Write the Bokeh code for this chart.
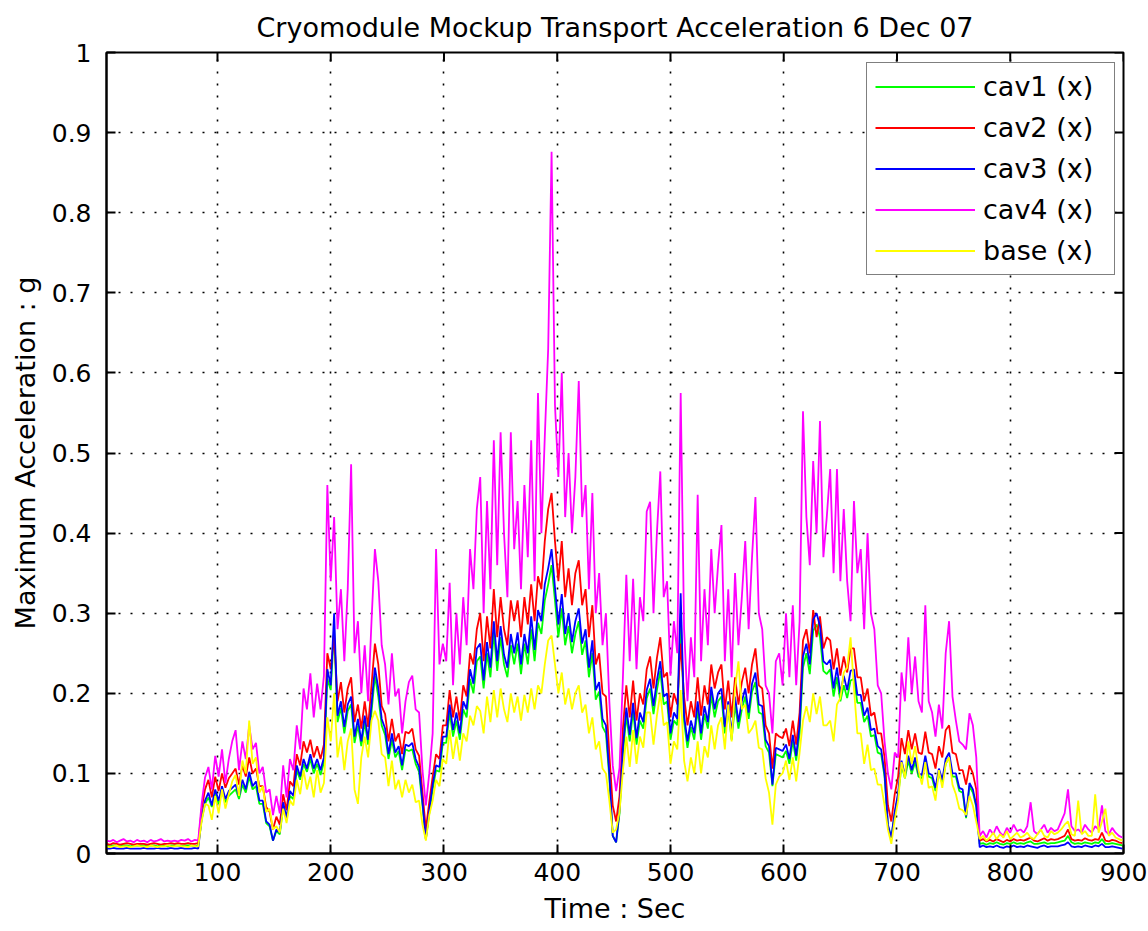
import math

from bokeh.plotting import figure
from bokeh.models import (Range1d, FixedTicker, CustomJSTickFormatter,
                          Legend, LegendItem)
from bokeh.embed import file_html
from bokeh.resources import INLINE

# Sample times (s) and peak acceleration per sample, in milli-g
t_sec = list(range(2, 900, 3))

cav4_mg = [
    16, 15, 17, 14, 16, 18, 15, 16, 14, 17,
    15, 16, 14, 17, 15, 16, 18, 15, 16, 15,
    16, 15, 17, 16, 18, 15, 17, 16, 62, 95,
    108, 80, 122, 96, 130, 88, 118, 140, 154, 104,
    140, 118, 160, 130, 138, 100, 108, 76, 80, 48,
    72, 50, 110, 70, 118, 104, 160, 130, 206, 180,
    225, 170, 212, 180, 222, 460, 340, 420, 280, 330,
    240, 330, 486, 250, 290, 200, 260, 190, 290, 380,
    340, 260, 236, 186, 250, 196, 206, 150, 190, 214,
    222, 180, 176, 104, 60, 100, 150, 380, 236, 262,
    240, 338, 210, 300, 236, 320, 260, 380, 330, 430,
    470, 300, 440, 330, 516, 360, 526, 400, 320, 526,
    380, 440, 330, 460, 370, 516, 340, 575, 400, 520,
    630, 876, 560, 470, 600, 420, 500, 400, 470, 590,
    420, 460, 330, 450, 300, 350, 260, 300, 190, 110,
    78, 107, 220, 348, 240, 343, 230, 320, 290, 427,
    439, 300, 400, 477, 320, 340, 222, 290, 250, 575,
    280, 190, 270, 220, 448, 240, 330, 260, 380, 300,
    360, 410, 240, 330, 220, 350, 260, 320, 390, 280,
    370, 445, 300, 280, 210, 200, 150, 240, 250, 210,
    300, 220, 310, 210, 290, 552, 420, 360, 490, 400,
    540, 370, 420, 480, 350, 480, 340, 430, 340, 290,
    440, 350, 380, 280, 400, 300, 280, 210, 200, 140,
    100, 80, 126, 120, 226, 190, 270, 200, 246, 190,
    176, 310, 190, 176, 146, 186, 156, 250, 290, 196,
    166, 140, 136, 130, 175, 160, 120, 22, 28, 20,
    30, 24, 34, 26, 22, 32, 26, 36, 28, 30,
    26, 34, 64, 28, 24, 30, 36, 26, 32, 28,
    30, 40, 50, 80, 34, 28, 30, 26, 36, 30,
    26, 34, 30, 60, 28, 24, 32, 26, 22, 20,
]

cav2_mg = [
    12, 11, 13, 12, 11, 12, 13, 12, 11, 12,
    12, 12, 11, 12, 13, 12, 11, 12, 12, 13,
    12, 13, 12, 12, 13, 12, 12, 13, 55, 80,
    92, 70, 96, 78, 100, 82, 94, 100, 106, 86,
    110, 96, 120, 100, 106, 84, 84, 58, 52, 30,
    46, 36, 74, 54, 90, 84, 124, 110, 140, 126,
    142, 120, 134, 118, 136, 250, 230, 272, 190, 214,
    176, 206, 220, 164, 186, 156, 190, 158, 210, 262,
    236, 184, 174, 140, 168, 140, 150, 124, 152, 150,
    156, 130, 122, 76, 30, 64, 96, 124, 118, 160,
    160, 204, 170, 196, 166, 210, 196, 250, 236, 280,
    300, 240, 296, 256, 330, 270, 320, 280, 260, 316,
    290, 316, 270, 320, 286, 336, 290, 346, 330, 390,
    430, 450, 390, 340, 390, 320, 356, 310, 350, 366,
    310, 330, 270, 310, 236, 250, 200, 196, 124, 60,
    40, 72, 156, 210, 170, 216, 166, 200, 186, 230,
    246, 206, 244, 270, 220, 226, 170, 200, 186, 262,
    196, 160, 190, 170, 220, 172, 210, 186, 236, 206,
    226, 236, 180, 216, 170, 220, 186, 214, 232, 200,
    236, 256, 210, 206, 160, 150, 106, 150, 146, 144,
    156, 134, 166, 136, 176, 266, 280, 250, 304, 270,
    296, 256, 270, 266, 230, 256, 222, 246, 226, 256,
    256, 220, 220, 190, 206, 172, 176, 150, 150, 120,
    60, 40, 74, 96, 144, 124, 154, 130, 150, 126,
    124, 152, 126, 124, 106, 134, 120, 154, 160, 126,
    124, 104, 104, 86, 110, 100, 80, 16, 18, 15,
    17, 15, 18, 16, 14, 17, 15, 18, 16, 17,
    16, 18, 20, 16, 15, 17, 19, 16, 18, 17,
    18, 20, 22, 30, 18, 16, 17, 16, 19, 17,
    16, 18, 17, 26, 16, 15, 17, 16, 14, 13,
]

cav1_mg = [
    10, 9, 10, 10, 9, 10, 10, 9, 10, 10,
    10, 10, 9, 10, 10, 9, 10, 10, 9, 10,
    10, 10, 9, 10, 10, 10, 9, 10, 42, 62,
    70, 58, 74, 62, 78, 64, 72, 76, 80, 68,
    86, 76, 96, 80, 84, 62, 62, 38, 34, 16,
    28, 24, 58, 42, 72, 68, 104, 92, 112, 102,
    118, 100, 112, 98, 114, 218, 204, 280, 164, 182,
    150, 178, 186, 138, 160, 134, 164, 136, 176, 222,
    196, 160, 148, 118, 142, 120, 128, 104, 130, 128,
    130, 112, 102, 60, 18, 50, 80, 104, 102, 138,
    138, 176, 146, 166, 142, 180, 170, 218, 200, 240,
    246, 206, 250, 220, 276, 228, 270, 236, 220, 260,
    236, 262, 224, 262, 236, 280, 240, 288, 274, 316,
    336, 360, 316, 270, 306, 260, 284, 250, 274, 290,
    248, 266, 220, 250, 192, 202, 158, 150, 94, 22,
    14, 50, 124, 172, 140, 178, 136, 166, 156, 194,
    206, 174, 204, 228, 186, 190, 142, 166, 160, 300,
    164, 132, 158, 142, 180, 142, 174, 156, 198, 170,
    190, 196, 150, 180, 142, 186, 156, 180, 196, 168,
    202, 214, 176, 174, 134, 126, 84, 124, 122, 120,
    128, 112, 140, 116, 150, 232, 250, 224, 278, 286,
    270, 228, 224, 230, 196, 220, 190, 210, 194, 216,
    218, 188, 188, 164, 172, 146, 148, 126, 124, 96,
    34, 20, 50, 72, 110, 94, 116, 100, 114, 96,
    94, 116, 96, 94, 78, 100, 88, 112, 120, 96,
    96, 78, 76, 44, 84, 76, 58, 12, 13, 11,
    13, 12, 14, 12, 11, 13, 12, 14, 12, 13,
    12, 14, 15, 12, 12, 13, 14, 12, 13, 13,
    14, 15, 16, 22, 14, 12, 13, 12, 14, 13,
    12, 14, 13, 18, 12, 12, 13, 12, 11, 10,
]

cav3_mg = [
    6, 6, 7, 6, 6, 6, 7, 6, 6, 6,
    6, 7, 6, 6, 6, 7, 6, 6, 6, 7,
    6, 6, 7, 6, 6, 6, 7, 6, 44, 66,
    76, 60, 80, 66, 84, 68, 78, 82, 86, 72,
    92, 80, 102, 84, 90, 66, 66, 40, 36, 16,
    30, 26, 64, 44, 78, 72, 110, 96, 118, 106,
    124, 106, 118, 104, 120, 230, 210, 300, 172, 190,
    158, 186, 196, 146, 168, 140, 172, 142, 186, 232,
    206, 168, 156, 124, 150, 126, 134, 110, 136, 134,
    138, 118, 108, 64, 18, 54, 86, 110, 108, 146,
    146, 186, 154, 176, 150, 190, 180, 230, 212, 256,
    262, 216, 264, 232, 290, 240, 284, 248, 232, 274,
    250, 276, 236, 274, 250, 296, 254, 304, 290, 336,
    356, 380, 332, 286, 324, 274, 300, 264, 290, 306,
    262, 280, 232, 266, 204, 214, 168, 160, 100, 22,
    14, 54, 132, 182, 148, 188, 144, 176, 164, 204,
    218, 184, 216, 240, 196, 200, 150, 176, 168, 325,
    172, 140, 166, 150, 190, 150, 184, 164, 208, 180,
    200, 206, 158, 190, 150, 196, 164, 190, 206, 176,
    212, 226, 186, 184, 142, 134, 86, 132, 130, 128,
    136, 118, 148, 122, 160, 246, 262, 236, 292, 300,
    284, 240, 236, 242, 206, 232, 200, 222, 204, 228,
    230, 198, 198, 172, 182, 154, 156, 134, 130, 100,
    36, 20, 52, 76, 116, 98, 122, 104, 120, 100,
    98, 122, 100, 98, 82, 106, 92, 118, 126, 100,
    100, 82, 80, 46, 88, 80, 60, 8, 10, 8,
    9, 8, 10, 8, 7, 9, 8, 10, 8, 9,
    8, 10, 9, 8, 7, 9, 10, 8, 9, 9,
    9, 10, 11, 14, 9, 8, 9, 8, 10, 9,
    8, 10, 9, 12, 8, 8, 9, 8, 7, 6,
]

base_mg = [
    9, 8, 9, 10, 8, 9, 9, 8, 9, 10,
    9, 9, 8, 10, 9, 8, 9, 9, 10, 9,
    9, 10, 9, 9, 8, 10, 9, 9, 40, 62,
    60, 42, 72, 50, 80, 56, 74, 90, 98, 72,
    116, 100, 166, 112, 120, 76, 84, 52, 56, 30,
    34, 26, 56, 38, 66, 60, 92, 74, 104, 80,
    96, 70, 104, 76, 88, 170, 140, 200, 120, 146,
    104, 140, 156, 80, 62, 120, 146, 120, 166, 178,
    166, 124, 120, 84, 116, 80, 92, 70, 92, 76,
    86, 64, 66, 36, 16, 48, 66, 92, 84, 118,
    112, 154, 118, 146, 116, 150, 140, 172, 160, 184,
    178, 150, 196, 164, 204, 170, 206, 180, 164, 200,
    176, 196, 166, 198, 176, 206, 180, 210, 200, 236,
    266, 272, 236, 200, 226, 186, 206, 180, 200, 210,
    176, 186, 150, 170, 130, 140, 106, 100, 66, 26,
    30, 52, 104, 146, 108, 154, 112, 146, 132, 176,
    176, 136, 172, 200, 160, 164, 112, 140, 130, 204,
    116, 90, 120, 100, 140, 100, 134, 120, 160, 130,
    160, 170, 130, 186, 140, 206, 240, 180, 186, 150,
    156, 166, 132, 130, 94, 76, 36, 86, 96, 100,
    116, 92, 120, 90, 126, 166, 184, 164, 200, 174,
    196, 160, 160, 166, 140, 186, 194, 226, 232, 270,
    206, 150, 150, 112, 136, 104, 106, 86, 86, 60,
    30, 12, 42, 66, 114, 94, 140, 112, 134, 104,
    86, 114, 82, 84, 66, 104, 82, 112, 120, 86,
    74, 56, 54, 48, 72, 60, 40, 18, 22, 16,
    20, 26, 18, 24, 20, 28, 18, 22, 26, 20,
    22, 26, 20, 18, 24, 30, 22, 20, 28, 24,
    26, 30, 36, 40, 24, 22, 66, 24, 28, 22,
    22, 74, 26, 40, 56, 22, 26, 20, 18, 16,
]

series_labels = ["cav1 (x)", "cav2 (x)", "cav3 (x)", "cav4 (x)", "base (x)"]
series_colors = ["#00ff00", "#ff0000", "#0000ff", "#ff00ff", "#ffff00"]
series_values = [cav1_mg, cav2_mg, cav3_mg, cav4_mg, base_mg]

title_text = "Cryomodule Mockup Transport Acceleration 6 Dec 07"
x_ticks = [100, 200, 300, 400, 500, 600, 700, 800, 900]
y_ticks = [0, 0.1, 0.2, 0.3, 0.4, 0.5, 0.6, 0.7, 0.8, 0.9, 1.0]

FONT = "DejaVu Sans"
TICK_SIZE = "25px"
TEXT_SIZE = "27px"

p = figure(width=1148, height=931,
           x_range=Range1d(2, 900), y_range=Range1d(0, 1),
           output_backend="svg", toolbar_location=None,
           min_border_left=106, min_border_right=25,
           min_border_top=52, min_border_bottom=78,
           title=title_text)

p.title.align = "center"
p.title.text_font = FONT
p.title.text_font_size = TEXT_SIZE
p.title.text_font_style = "normal"
p.title.text_color = "black"
p.title.standoff = 19

p.background_fill_color = "white"
p.border_fill_color = "white"
p.outline_line_color = "black"
p.outline_line_width = 2


def style_axis(ax):
    ax.axis_line_color = "black"
    ax.axis_line_width = 2
    ax.major_tick_in = 9
    ax.major_tick_out = 0
    ax.major_tick_line_width = 2
    ax.major_tick_line_color = "black"
    ax.minor_tick_line_color = None
    ax.major_label_text_font = FONT
    ax.major_label_text_font_size = TICK_SIZE
    ax.major_label_text_color = "black"
    ax.axis_label_text_font = FONT
    ax.axis_label_text_font_size = TEXT_SIZE
    ax.axis_label_text_font_style = "normal"
    ax.axis_label_text_color = "black"


xax = p.xaxis[0]
style_axis(xax)
xax.ticker = FixedTicker(ticks=x_ticks)
xax.axis_label = "Time : Sec"
xax.major_label_standoff = 9
xax.axis_label_standoff = 9

yax = p.yaxis[0]
style_axis(yax)
yax.ticker = FixedTicker(ticks=y_ticks)
yax.formatter = CustomJSTickFormatter(code="return String(Math.round(tick * 10) / 10);")
yax.axis_label = "Maximum Acceleration : g"
yax.major_label_standoff = 15
yax.axis_label_standoff = 8

for g in (p.xgrid[0], p.ygrid[0]):
    g.grid_line_color = "black"
    g.grid_line_width = 1.6
    g.grid_line_dash = "2 10"
p.xgrid[0].ticker = FixedTicker(ticks=x_ticks)
p.ygrid[0].ticker = FixedTicker(ticks=y_ticks)

items = []
for label, color, vals in zip(series_labels, series_colors, series_values):
    g_vals = [v / 1000.0 for v in vals]
    r = p.line(t_sec, g_vals, line_color=color, line_width=1.8)
    items.append(LegendItem(label=label, renderers=[r]))

# Inward tick marks along the top and right edges of the box
# (dash markers centred on the edge; the half outside the frame is clipped)
x_top = [p.y_range.end] * len(x_ticks)
y_right = [p.x_range.end] * len(y_ticks)
p.scatter(x_ticks, x_top, marker="dash", angle=math.pi / 2, size=18,
          line_color="black", line_width=2)
p.scatter(y_right, y_ticks, marker="dash", size=18,
          line_color="black", line_width=2)

legend = Legend(items=items, location=(760, 578))
legend.label_text_font = FONT
legend.label_text_font_size = TEXT_SIZE
legend.label_text_color = "black"
legend.glyph_width = 100
legend.glyph_height = 31
legend.label_height = 31
legend.label_width = 123
legend.label_standoff = 8
legend.spacing = 10
legend.padding = 8
legend.margin = 0
legend.border_line_color = "black"
legend.border_line_width = 1.5
legend.background_fill_color = "white"
legend.background_fill_alpha = 1.0
p.add_layout(legend)

open("out.html", "w").write(file_html(p, INLINE, title=title_text))
